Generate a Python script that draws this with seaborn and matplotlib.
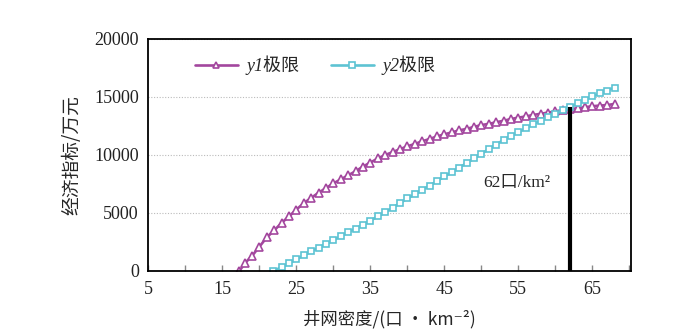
import numpy as np
import pandas as pd
import seaborn as sns
import matplotlib
matplotlib.use("Agg")
import matplotlib.pyplot as plt
from matplotlib.ticker import FixedLocator

# ---- data ----
x1 = [17.3] + list(range(18, 69))
y1 = [0, 650, 1300, 2100, 2900, 3500, 4150, 4700, 5300, 5850, 6300,
      6750, 7150, 7550, 7900, 8250, 8600, 9000, 9350, 9700, 10000,
      10250, 10500, 10750, 10950, 11180, 11380, 11600, 11780, 11950, 12120,
      12250, 12420, 12580, 12680, 12820, 12950, 13100, 13220, 13320, 13450,
      13550, 13650, 13760, 13870, 13950, 14030, 14120, 14200, 14260, 14300,
      14400]
x2 = [21.8] + list(range(23, 69))
y2 = [0, 320, 650, 1000, 1350, 1680, 2000, 2330, 2650, 3000, 3330,
      3650, 4000, 4350, 4700, 5050, 5450, 5850, 6250, 6600, 7000,
      7350, 7750, 8150, 8500, 8900, 9300, 9700, 10100, 10500, 10900,
      11300, 11650, 11950, 12300, 12650, 12950, 13250, 13550, 13850, 14100,
      14450, 14750, 15050, 15300, 15550, 15800]
series_names = ["y1极限", "y2极限"]
colors = ["#A3479E", "#5DC3D3"]
vline_x = 62
vline_top = 14150
annot_text = "62口/km²"
xlabel = "井网密度/(口 • km⁻²)"
ylabel = "经济指标/万元"

sns.set_style("white")
plt.rcParams["font.family"] = ["Liberation Serif", "Noto Sans CJK SC", "DejaVu Sans"]

df1 = pd.DataFrame({"x": x1, "y": y1})
df2 = pd.DataFrame({"x": x2, "y": y2})

fig = plt.figure(figsize=(6.89, 3.36), dpi=100)
ax = fig.add_axes([0.2155, 0.1935, 0.7, 0.6905])

sns.lineplot(data=df1, x="x", y="y", ax=ax, color=colors[0], lw=1.9,
             marker="^", markersize=5.5, markerfacecolor="white",
             markeredgecolor=colors[0], markeredgewidth=1.2, label=series_names[0])
sns.lineplot(data=df2, x="x", y="y", ax=ax, color=colors[1], lw=1.9,
             marker="s", markersize=4.6, markerfacecolor="white",
             markeredgecolor=colors[1], markeredgewidth=1.2, label=series_names[1])

ax.plot([vline_x, vline_x], [0, vline_top], color="black", lw=3, solid_capstyle="butt")
ax.text(50.2, 7600, annot_text, fontsize=12.5, va="center", ha="left",
        family=["Liberation Serif", "Noto Sans CJK SC", "DejaVu Sans"])

ax.set_xlim(5, 70.2)
ax.set_ylim(0, 20000)
ax.xaxis.set_major_locator(FixedLocator([5, 15, 25, 35, 45, 55, 65]))
ax.xaxis.set_minor_locator(FixedLocator([10, 20, 30, 40, 50, 60, 70]))
ax.set_yticks([0, 5000, 10000, 15000, 20000])
ax.tick_params(axis="x", which="both", direction="in", length=4, width=1,
               color="#888888", labelsize=13, pad=7, bottom=True)
ax.tick_params(axis="y", which="both", length=0, labelsize=13, pad=7)
for lab in ax.get_xticklabels() + ax.get_yticklabels():
    lab.set_color("#222222")

ax.grid(axis="y", color="#BBBBBB", linestyle=(0, (1, 1.5)), lw=0.8)
ax.grid(axis="x", visible=False)
for s in ax.spines.values():
    s.set_color("black")
    s.set_linewidth(1.3)
    s.set_visible(True)

ax.set_xlabel(xlabel, fontsize=12.5, labelpad=9,
              family=["Noto Sans CJK SC", "Liberation Serif", "DejaVu Sans"])
ax.set_ylabel(ylabel, fontsize=13.5, labelpad=8,
              family=["Noto Sans CJK SC", "Liberation Serif", "DejaVu Sans"])

leg = ax.legend(loc="upper left", bbox_to_anchor=(0.062, 1.0), ncol=2,
                frameon=False, handlelength=2.4, handletextpad=0.45,
                columnspacing=1.75, numpoints=1, markerscale=0.8,
                prop={"family": ["Liberation Serif", "Noto Sans CJK SC"],
                      "style": "italic", "size": 13})

fig.savefig("out.png", dpi=100)
